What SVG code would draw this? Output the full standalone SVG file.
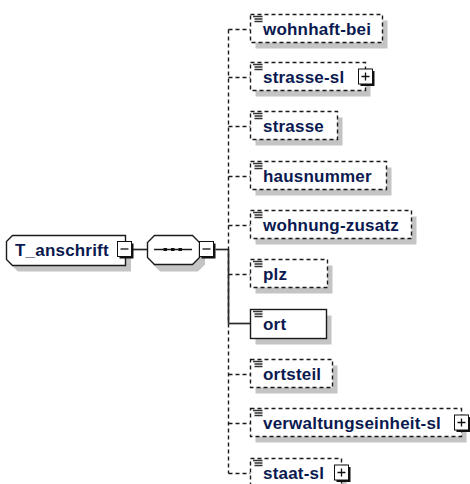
<svg xmlns="http://www.w3.org/2000/svg" xmlns:xlink="http://www.w3.org/1999/xlink" width="470" height="484" viewBox="0 0 470 484">
<style>
.lbl{font-family:"Liberation Sans",Arial,sans-serif;font-weight:bold;font-size:17px;letter-spacing:0.2px;fill:#0a1a50}
.box{fill:#ffffff;stroke:#1a1a1a;stroke-width:1.4}
.dbox{fill:#ffffff;stroke:#1a1a1a;stroke-width:1.4;stroke-dasharray:4 3}
.shd{fill:#c4c4c4;stroke:none}
.dl{fill:none;stroke:#1a1a1a;stroke-width:1.4;stroke-dasharray:4 3}
.sl{fill:none;stroke:#2a2a2a;stroke-width:1.7}
.ic{fill:#ffffff;stroke:#111;stroke-width:1}
.ish{fill:#111}
.ico{fill:none;stroke:#111;stroke-width:1.3}
</style>
<defs>
<g id="attr"><path d="M2.5 2H12M4 4.5H12M4 7H12" fill="none" stroke="#333" stroke-width="1.4"/></g>
<g id="minus"><rect x="2" y="2" width="14" height="15" class="ish"/><rect x="0" y="0" width="14" height="15" class="ic"/><path d="M3 7.5H11" class="ico"/></g>
<g id="plus"><rect x="2" y="2" width="14" height="15" class="ish"/><rect x="0" y="0" width="14" height="15" class="ic"/><path d="M3 7.5H11M7 3.5V11.5" class="ico"/></g>
</defs>
<rect width="470" height="484" fill="#ffffff"/>

<g id="connectors">
<line x1="133" y1="249.5" x2="147.5" y2="249.5" class="sl"/>
<line x1="215.5" y1="249.5" x2="228.5" y2="249.5" class="sl"/>
<line x1="228.5" y1="29.5" x2="228.5" y2="473.5" class="dl"/>
<line x1="228.5" y1="249.5" x2="228.5" y2="323.5" class="sl"/>
<line x1="228.5" y1="29.5" x2="250.5" y2="29.5" class="dl"/>
<line x1="228.5" y1="77.5" x2="250.5" y2="77.5" class="dl"/>
<line x1="228.5" y1="126.5" x2="250.5" y2="126.5" class="dl"/>
<line x1="228.5" y1="176.5" x2="250.5" y2="176.5" class="dl"/>
<line x1="228.5" y1="225.5" x2="250.5" y2="225.5" class="dl"/>
<line x1="228.5" y1="274.5" x2="250.5" y2="274.5" class="dl"/>
<line x1="228.5" y1="323.5" x2="250.5" y2="323.5" class="sl"/>
<line x1="228.5" y1="374.5" x2="250.5" y2="374.5" class="dl"/>
<line x1="228.5" y1="423.5" x2="250.5" y2="423.5" class="dl"/>
<line x1="228.5" y1="473.5" x2="250.5" y2="473.5" class="dl"/>
</g>

<g id="node-T_anschrift">
<path d="M18 241.5H131V271.5H18L12 265.5V247.5Z" class="shd"/>
<path d="M12.5 235.5H125.5V265.5H12.5L6.5 259.5V241.5Z" class="box"/>
<text x="15" y="256" class="lbl">T_anschrift</text>
<use xlink:href="#minus" x="117.5" y="241.5"/>
</g>

<g id="node-sequence">
<path d="M160 241.5H199L205 247.5V264.5L198 271.5H160L153 264.5V247.5Z" class="shd"/>
<path d="M154.5 235.5H192.5L199.5 242.5V257.5L192.5 264.5H154.5L147.5 257.5V242.5Z" class="box"/>
<line x1="154" y1="249.5" x2="192" y2="249.5" stroke="#1a1a1a" stroke-width="1.3"/>
<rect x="163.5" y="248" width="3.5" height="3" fill="#111"/>
<rect x="171" y="248" width="3.5" height="3" fill="#111"/>
<rect x="178.5" y="248" width="3.5" height="3" fill="#111"/>
<use xlink:href="#minus" x="199.5" y="241.5"/>
</g>

<g id="node-wohnhaft-bei">
<rect x="255.5" y="20.5" width="132" height="28" class="shd"/>
<rect x="250.5" y="14.5" width="132" height="28" class="dbox"/>
<use xlink:href="#attr" x="250.5" y="14.5"/>
<text x="263" y="34.5" class="lbl">wohnhaft-bei</text>
</g>

<g id="node-strasse-sl">
<rect x="255.5" y="68.5" width="115" height="28" class="shd"/>
<rect x="250.5" y="62.5" width="115" height="28" class="dbox"/>
<use xlink:href="#attr" x="250.5" y="62.5"/>
<text x="263" y="82.5" class="lbl">strasse-sl</text>
<use xlink:href="#plus" x="358.5" y="69"/>
</g>

<g id="node-strasse">
<rect x="255.5" y="117.5" width="87" height="28" class="shd"/>
<rect x="250.5" y="111.5" width="87" height="28" class="dbox"/>
<use xlink:href="#attr" x="250.5" y="111.5"/>
<text x="263" y="131.5" class="lbl">strasse</text>
</g>

<g id="node-hausnummer">
<rect x="255.5" y="167.5" width="136" height="28" class="shd"/>
<rect x="250.5" y="161.5" width="136" height="28" class="dbox"/>
<use xlink:href="#attr" x="250.5" y="161.5"/>
<text x="263" y="181.5" class="lbl">hausnummer</text>
</g>

<g id="node-wohnung-zusatz">
<rect x="255.5" y="216.5" width="161" height="28" class="shd"/>
<rect x="250.5" y="210.5" width="161" height="28" class="dbox"/>
<use xlink:href="#attr" x="250.5" y="210.5"/>
<text x="263" y="230.5" class="lbl">wohnung-zusatz</text>
</g>

<g id="node-plz">
<rect x="255.5" y="265.5" width="77" height="28" class="shd"/>
<rect x="250.5" y="259.5" width="77" height="28" class="dbox"/>
<use xlink:href="#attr" x="250.5" y="259.5"/>
<text x="263" y="279.5" class="lbl">plz</text>
</g>

<g id="node-ort">
<rect x="255.5" y="315.5" width="76" height="29" class="shd"/>
<rect x="250.5" y="309.5" width="76" height="29" class="box" stroke-width="1.7"/>
<use xlink:href="#attr" x="250.5" y="309.5"/>
<text x="263" y="329.5" class="lbl">ort</text>
</g>

<g id="node-ortsteil">
<rect x="255.5" y="365.5" width="82" height="28" class="shd"/>
<rect x="250.5" y="359.5" width="82" height="28" class="dbox"/>
<use xlink:href="#attr" x="250.5" y="359.5"/>
<text x="263" y="379.5" class="lbl">ortsteil</text>
</g>

<g id="node-verwaltungseinheit-sl">
<rect x="255.5" y="414.5" width="211" height="28" class="shd"/>
<rect x="250.5" y="408.5" width="211" height="28" class="dbox"/>
<use xlink:href="#attr" x="250.5" y="408.5"/>
<text x="263" y="428.5" class="lbl">verwaltungseinheit-sl</text>
<use xlink:href="#plus" x="454.5" y="415"/>
</g>

<g id="node-staat-sl">
<rect x="255.5" y="464.5" width="91" height="28" class="shd"/>
<rect x="250.5" y="458.5" width="91" height="28" class="dbox"/>
<use xlink:href="#attr" x="250.5" y="458.5"/>
<text x="263" y="478.5" class="lbl">staat-sl</text>
<use xlink:href="#plus" x="334.5" y="465"/>
</g>
</svg>
